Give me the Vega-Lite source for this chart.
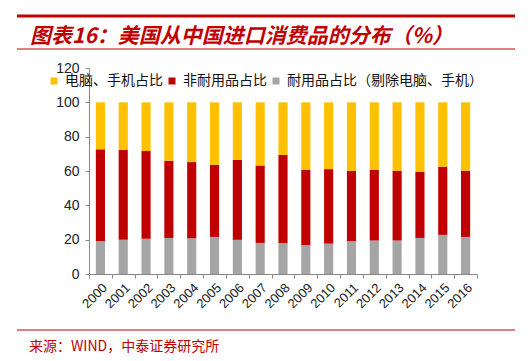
{
  "$schema": "https://vega.github.io/schema/vega-lite/v6.json",
  "background": "white",
  "padding": {"left": 15, "top": 14, "right": 19, "bottom": 5},
  "spacing": 11,
  "config": {
    "view": {"stroke": null},
    "font": "Noto Sans CJK SC",
    "axis": {"labelFont": "Liberation Sans", "labelColor": "#222222", "domainColor": "#888888", "tickColor": "#888888", "grid": false, "title": null}
  },
  "vconcat": [
    {
      "width": 498,
      "height": 33,
      "data": {"values": [{}]},
      "layer": [
        {
          "mark": {"type": "rule", "color": "#C00000", "strokeWidth": 3},
          "encoding": {"y": {"datum": 1, "type": "quantitative", "scale": {"domain": [0, 1]}, "axis": null}}
        },
        {
          "mark": {"type": "rule", "color": "#C00000", "strokeWidth": 1},
          "encoding": {"y": {"datum": 0, "type": "quantitative", "scale": {"domain": [0, 1]}, "axis": null}}
        },
        {
          "mark": {"type": "text", "text": "图表16：美国从中国进口消费品的分布（%）", "align": "left", "baseline": "middle", "dx": 13, "fontSize": 21, "fontWeight": "bold", "fontStyle": "italic", "color": "#C00000"},
          "encoding": {
            "x": {"datum": 0, "type": "quantitative", "scale": {"domain": [0, 1]}, "axis": null},
            "y": {"datum": 0.37, "type": "quantitative", "scale": {"domain": [0, 1]}, "axis": null}
          }
        }
      ]
    },
    {
      "spacing": 0,
      "hconcat": [
        {
          "width": 1,
          "height": 206,
          "data": {"values": [{}]},
          "mark": {"type": "text", "text": ""},
          "encoding": {}
        },
        {
          "width": 388,
          "height": 206,
          "data": {"values": [
            {"year": "2000", "cat": "耐用品占比（剔除电脑、手机）", "value": 19.1},
            {"year": "2000", "cat": "非耐用品占比", "value": 53.5},
            {"year": "2000", "cat": "电脑、手机占比", "value": 27.4},
            {"year": "2001", "cat": "耐用品占比（剔除电脑、手机）", "value": 19.9},
            {"year": "2001", "cat": "非耐用品占比", "value": 52.3},
            {"year": "2001", "cat": "电脑、手机占比", "value": 27.8},
            {"year": "2002", "cat": "耐用品占比（剔除电脑、手机）", "value": 20.6},
            {"year": "2002", "cat": "非耐用品占比", "value": 51.0},
            {"year": "2002", "cat": "电脑、手机占比", "value": 28.4},
            {"year": "2003", "cat": "耐用品占比（剔除电脑、手机）", "value": 21.0},
            {"year": "2003", "cat": "非耐用品占比", "value": 45.0},
            {"year": "2003", "cat": "电脑、手机占比", "value": 34.0},
            {"year": "2004", "cat": "耐用品占比（剔除电脑、手机）", "value": 20.8},
            {"year": "2004", "cat": "非耐用品占比", "value": 44.4},
            {"year": "2004", "cat": "电脑、手机占比", "value": 34.8},
            {"year": "2005", "cat": "耐用品占比（剔除电脑、手机）", "value": 21.6},
            {"year": "2005", "cat": "非耐用品占比", "value": 42.0},
            {"year": "2005", "cat": "电脑、手机占比", "value": 36.4},
            {"year": "2006", "cat": "耐用品占比（剔除电脑、手机）", "value": 19.9},
            {"year": "2006", "cat": "非耐用品占比", "value": 46.5},
            {"year": "2006", "cat": "电脑、手机占比", "value": 33.6},
            {"year": "2007", "cat": "耐用品占比（剔除电脑、手机）", "value": 18.1},
            {"year": "2007", "cat": "非耐用品占比", "value": 45.1},
            {"year": "2007", "cat": "电脑、手机占比", "value": 36.8},
            {"year": "2008", "cat": "耐用品占比（剔除电脑、手机）", "value": 18.1},
            {"year": "2008", "cat": "非耐用品占比", "value": 51.2},
            {"year": "2008", "cat": "电脑、手机占比", "value": 30.7},
            {"year": "2009", "cat": "耐用品占比（剔除电脑、手机）", "value": 16.8},
            {"year": "2009", "cat": "非耐用品占比", "value": 43.9},
            {"year": "2009", "cat": "电脑、手机占比", "value": 39.3},
            {"year": "2010", "cat": "耐用品占比（剔除电脑、手机）", "value": 17.7},
            {"year": "2010", "cat": "非耐用品占比", "value": 43.4},
            {"year": "2010", "cat": "电脑、手机占比", "value": 38.9},
            {"year": "2011", "cat": "耐用品占比（剔除电脑、手机）", "value": 19.1},
            {"year": "2011", "cat": "非耐用品占比", "value": 40.9},
            {"year": "2011", "cat": "电脑、手机占比", "value": 40.0},
            {"year": "2012", "cat": "耐用品占比（剔除电脑、手机）", "value": 19.5},
            {"year": "2012", "cat": "非耐用品占比", "value": 41.2},
            {"year": "2012", "cat": "电脑、手机占比", "value": 39.3},
            {"year": "2013", "cat": "耐用品占比（剔除电脑、手机）", "value": 19.5},
            {"year": "2013", "cat": "非耐用品占比", "value": 40.5},
            {"year": "2013", "cat": "电脑、手机占比", "value": 40.0},
            {"year": "2014", "cat": "耐用品占比（剔除电脑、手机）", "value": 21.0},
            {"year": "2014", "cat": "非耐用品占比", "value": 38.6},
            {"year": "2014", "cat": "电脑、手机占比", "value": 40.4},
            {"year": "2015", "cat": "耐用品占比（剔除电脑、手机）", "value": 22.8},
            {"year": "2015", "cat": "非耐用品占比", "value": 39.7},
            {"year": "2015", "cat": "电脑、手机占比", "value": 37.5},
            {"year": "2016", "cat": "耐用品占比（剔除电脑、手机）", "value": 21.6},
            {"year": "2016", "cat": "非耐用品占比", "value": 38.6},
            {"year": "2016", "cat": "电脑、手机占比", "value": 39.8}
          ]},
          "transform": [
            {"calculate": "indexof(['耐用品占比（剔除电脑、手机）', '非耐用品占比', '电脑、手机占比'], datum.cat)", "as": "stackOrder"}
          ],
          "mark": {"type": "bar", "width": {"band": 0.4}},
          "encoding": {
            "x": {
              "field": "year", "type": "ordinal",
              "scale": {"paddingInner": 0, "paddingOuter": 0},
              "axis": {"labelAngle": -45, "labelFontSize": 13, "tickBand": "extent", "tickSize": 4, "labelPadding": 3}
            },
            "y": {
              "field": "value", "type": "quantitative", "stack": "zero",
              "scale": {"domain": [0, 120]},
              "axis": {"values": [0, 20, 40, 60, 80, 100, 120], "labelFontSize": 14, "tickSize": 4, "labelPadding": 6, "minExtent": 71}
            },
            "order": {"field": "stackOrder", "type": "quantitative", "sort": "ascending"},
            "color": {
              "field": "cat", "type": "nominal",
              "scale": {"domain": ["电脑、手机占比", "非耐用品占比", "耐用品占比（剔除电脑、手机）"], "range": ["#FFC000", "#C00000", "#A5A5A5"]},
              "legend": {"orient": "none", "legendX": 30, "legendY": 58, "direction": "horizontal", "title": null, "symbolType": "square", "symbolSize": 49, "symbolStrokeWidth": 0, "labelFontSize": 14, "labelLimit": 0, "labelFont": "Noto Sans CJK SC", "labelColor": "#111111", "columnPadding": 2, "labelOffset": 4, "padding": 0}
            }
          }
        }
      ]
    },
    {
      "width": 498,
      "height": 25,
      "data": {"values": [{}]},
      "layer": [
        {
          "mark": {"type": "rule", "color": "#C00000", "strokeWidth": 1},
          "encoding": {"y": {"datum": 17, "type": "quantitative", "scale": {"domain": [0, 25]}, "axis": null}}
        },
        {
          "mark": {"type": "text", "text": "来源：WIND，中泰证券研究所", "align": "left", "baseline": "middle", "dx": 12, "fontSize": 14, "color": "#C00000"},
          "encoding": {
            "x": {"datum": 0, "type": "quantitative", "scale": {"domain": [0, 25]}, "axis": null},
            "y": {"datum": 0, "type": "quantitative", "scale": {"domain": [0, 25]}, "axis": null}
          }
        }
      ]
    }
  ]
}
